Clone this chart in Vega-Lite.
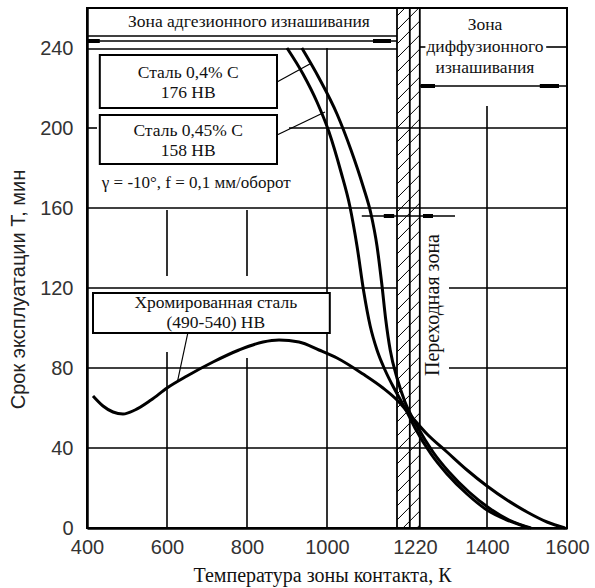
{
  "$schema": "https://vega.github.io/schema/vega-lite/v6.json",
  "autosize": {"type": "none"},
  "width": 480,
  "height": 520,
  "padding": {"left": 87, "top": 8, "right": 28, "bottom": 60},
  "background": "white",
  "config": {"view": {"stroke": "black", "strokeWidth": 2}},
  "datasets": {
    "curves": [
      {"series": "Сталь 0,45% C", "T": 900, "life": 240},
      {"series": "Сталь 0,45% C", "T": 940, "life": 227},
      {"series": "Сталь 0,45% C", "T": 975, "life": 213},
      {"series": "Сталь 0,45% C", "T": 1005, "life": 198},
      {"series": "Сталь 0,45% C", "T": 1035, "life": 178},
      {"series": "Сталь 0,45% C", "T": 1057, "life": 161},
      {"series": "Сталь 0,45% C", "T": 1075, "life": 141},
      {"series": "Сталь 0,45% C", "T": 1092, "life": 118},
      {"series": "Сталь 0,45% C", "T": 1108, "life": 101},
      {"series": "Сталь 0,45% C", "T": 1125, "life": 89},
      {"series": "Сталь 0,45% C", "T": 1145, "life": 79},
      {"series": "Сталь 0,45% C", "T": 1170, "life": 69},
      {"series": "Сталь 0,45% C", "T": 1195, "life": 60},
      {"series": "Сталь 0,45% C", "T": 1220, "life": 50},
      {"series": "Сталь 0,45% C", "T": 1260, "life": 37},
      {"series": "Сталь 0,45% C", "T": 1300, "life": 27},
      {"series": "Сталь 0,45% C", "T": 1350, "life": 17},
      {"series": "Сталь 0,45% C", "T": 1400, "life": 9},
      {"series": "Сталь 0,45% C", "T": 1450, "life": 4},
      {"series": "Сталь 0,45% C", "T": 1505, "life": 0},
      {"series": "Сталь 0,4% C", "T": 937, "life": 240},
      {"series": "Сталь 0,4% C", "T": 980, "life": 225},
      {"series": "Сталь 0,4% C", "T": 1025, "life": 207},
      {"series": "Сталь 0,4% C", "T": 1060, "life": 189},
      {"series": "Сталь 0,4% C", "T": 1090, "life": 171},
      {"series": "Сталь 0,4% C", "T": 1110, "life": 157},
      {"series": "Сталь 0,4% C", "T": 1125, "life": 141},
      {"series": "Сталь 0,4% C", "T": 1137, "life": 122},
      {"series": "Сталь 0,4% C", "T": 1147, "life": 104},
      {"series": "Сталь 0,4% C", "T": 1158, "life": 89},
      {"series": "Сталь 0,4% C", "T": 1175, "life": 75},
      {"series": "Сталь 0,4% C", "T": 1195, "life": 63},
      {"series": "Сталь 0,4% C", "T": 1225, "life": 51},
      {"series": "Сталь 0,4% C", "T": 1265, "life": 38},
      {"series": "Сталь 0,4% C", "T": 1305, "life": 28},
      {"series": "Сталь 0,4% C", "T": 1355, "life": 18},
      {"series": "Сталь 0,4% C", "T": 1405, "life": 10},
      {"series": "Сталь 0,4% C", "T": 1455, "life": 4},
      {"series": "Сталь 0,4% C", "T": 1510, "life": 0},
      {"series": "Хромированная сталь", "T": 415, "life": 66},
      {"series": "Хромированная сталь", "T": 440, "life": 61},
      {"series": "Хромированная сталь", "T": 465, "life": 58},
      {"series": "Хромированная сталь", "T": 490, "life": 57},
      {"series": "Хромированная сталь", "T": 520, "life": 59},
      {"series": "Хромированная сталь", "T": 560, "life": 64},
      {"series": "Хромированная сталь", "T": 600, "life": 70},
      {"series": "Хромированная сталь", "T": 650, "life": 76},
      {"series": "Хромированная сталь", "T": 715, "life": 83},
      {"series": "Хромированная сталь", "T": 780, "life": 89},
      {"series": "Хромированная сталь", "T": 840, "life": 93},
      {"series": "Хромированная сталь", "T": 880, "life": 94},
      {"series": "Хромированная сталь", "T": 930, "life": 93},
      {"series": "Хромированная сталь", "T": 980, "life": 89},
      {"series": "Хромированная сталь", "T": 1025, "life": 85},
      {"series": "Хромированная сталь", "T": 1090, "life": 77},
      {"series": "Хромированная сталь", "T": 1140, "life": 70},
      {"series": "Хромированная сталь", "T": 1175, "life": 64},
      {"series": "Хромированная сталь", "T": 1210, "life": 56},
      {"series": "Хромированная сталь", "T": 1250, "life": 47},
      {"series": "Хромированная сталь", "T": 1300, "life": 38},
      {"series": "Хромированная сталь", "T": 1350, "life": 29},
      {"series": "Хромированная сталь", "T": 1400, "life": 21},
      {"series": "Хромированная сталь", "T": 1450, "life": 14},
      {"series": "Хромированная сталь", "T": 1500, "life": 8},
      {"series": "Хромированная сталь", "T": 1550, "life": 3},
      {"series": "Хромированная сталь", "T": 1595, "life": 0}
    ],
    "grid": [
      {"x": 400, "x2": 1600, "y": 40, "y2": 40},
      {"x": 400, "x2": 1175, "y": 80, "y2": 80},
      {"x": 1305, "x2": 1600, "y": 80, "y2": 80},
      {"x": 400, "x2": 1175, "y": 120, "y2": 120},
      {"x": 1305, "x2": 1600, "y": 120, "y2": 120},
      {"x": 400, "x2": 1600, "y": 160, "y2": 160},
      {"x": 905, "x2": 1600, "y": 200, "y2": 200},
      {"x": 400, "x2": 425, "y": 200, "y2": 200},
      {"x": 400, "x2": 1175, "y": 239.5, "y2": 239.5},
      {"x": 1232, "x2": 1246, "y": 240.5, "y2": 240.5},
      {"x": 1548, "x2": 1600, "y": 240.5, "y2": 240.5},
      {"x": 600, "x2": 600, "y": 126, "y2": 159},
      {"x": 600, "x2": 600, "y": 0, "y2": 88},
      {"x": 800, "x2": 800, "y": 126, "y2": 159},
      {"x": 800, "x2": 800, "y": 0, "y2": 85},
      {"x": 1000, "x2": 1000, "y": 0, "y2": 240},
      {"x": 1400, "x2": 1400, "y": 0, "y2": 211},
      {"x": 400, "x2": 1175, "y": 246, "y2": 246},
      {"x": 400, "x2": 1175, "y": 243.5, "y2": 243.5},
      {"x": 1232, "x2": 1600, "y": 221, "y2": 221},
      {"x": 1087, "x2": 1320, "y": 156, "y2": 156}
    ],
    "zone": [
      {"x": 1175, "x2": 1175, "y": 0, "y2": 260},
      {"x": 1207, "x2": 1207, "y": 0, "y2": 260},
      {"x": 1232, "x2": 1232, "y": 0, "y2": 260}
    ],
    "arrowEnds": [
      {"x": 400, "x2": 432, "y": 243.5, "y2": 243.5},
      {"x": 1115, "x2": 1160, "y": 243.5, "y2": 243.5},
      {"x": 1234, "x2": 1270, "y": 221, "y2": 221},
      {"x": 1532, "x2": 1580, "y": 221, "y2": 221},
      {"x": 1142, "x2": 1168, "y": 156, "y2": 156},
      {"x": 1240, "x2": 1265, "y": 156, "y2": 156}
    ],
    "leaders": [
      {"x": 875, "x2": 957, "y": 223, "y2": 232},
      {"x": 875, "x2": 995, "y": 196.5, "y2": 208},
      {"x": 652, "x2": 627, "y": 97.5, "y2": 74}
    ],
    "hatch": [
      {"x": 1175, "x2": 1232, "y": -10, "y2": 1.5},
      {"x": 1175, "x2": 1232, "y": -3, "y2": 8.5},
      {"x": 1175, "x2": 1232, "y": 4, "y2": 15.5},
      {"x": 1175, "x2": 1232, "y": 11, "y2": 22.5},
      {"x": 1175, "x2": 1232, "y": 18, "y2": 29.5},
      {"x": 1175, "x2": 1232, "y": 25, "y2": 36.5},
      {"x": 1175, "x2": 1232, "y": 32, "y2": 43.5},
      {"x": 1175, "x2": 1232, "y": 39, "y2": 50.5},
      {"x": 1175, "x2": 1232, "y": 46, "y2": 57.5},
      {"x": 1175, "x2": 1232, "y": 53, "y2": 64.5},
      {"x": 1175, "x2": 1232, "y": 60, "y2": 71.5},
      {"x": 1175, "x2": 1232, "y": 67, "y2": 78.5},
      {"x": 1175, "x2": 1232, "y": 74, "y2": 85.5},
      {"x": 1175, "x2": 1232, "y": 81, "y2": 92.5},
      {"x": 1175, "x2": 1232, "y": 88, "y2": 99.5},
      {"x": 1175, "x2": 1232, "y": 95, "y2": 106.5},
      {"x": 1175, "x2": 1232, "y": 102, "y2": 113.5},
      {"x": 1175, "x2": 1232, "y": 109, "y2": 120.5},
      {"x": 1175, "x2": 1232, "y": 116, "y2": 127.5},
      {"x": 1175, "x2": 1232, "y": 123, "y2": 134.5},
      {"x": 1175, "x2": 1232, "y": 130, "y2": 141.5},
      {"x": 1175, "x2": 1232, "y": 137, "y2": 148.5},
      {"x": 1175, "x2": 1232, "y": 144, "y2": 155.5},
      {"x": 1175, "x2": 1232, "y": 151, "y2": 162.5},
      {"x": 1175, "x2": 1232, "y": 158, "y2": 169.5},
      {"x": 1175, "x2": 1232, "y": 165, "y2": 176.5},
      {"x": 1175, "x2": 1232, "y": 172, "y2": 183.5},
      {"x": 1175, "x2": 1232, "y": 179, "y2": 190.5},
      {"x": 1175, "x2": 1232, "y": 186, "y2": 197.5},
      {"x": 1175, "x2": 1232, "y": 193, "y2": 204.5},
      {"x": 1175, "x2": 1232, "y": 200, "y2": 211.5},
      {"x": 1175, "x2": 1232, "y": 207, "y2": 218.5},
      {"x": 1175, "x2": 1232, "y": 214, "y2": 225.5},
      {"x": 1175, "x2": 1232, "y": 221, "y2": 232.5},
      {"x": 1175, "x2": 1232, "y": 228, "y2": 239.5},
      {"x": 1175, "x2": 1232, "y": 235, "y2": 246.5},
      {"x": 1175, "x2": 1232, "y": 242, "y2": 253.5},
      {"x": 1175, "x2": 1232, "y": 249, "y2": 260.5},
      {"x": 1175, "x2": 1232, "y": 256, "y2": 267.5}
    ],
    "boxes": [
      {"x": 432, "x2": 875, "y": 210, "y2": 236.5},
      {"x": 432, "x2": 875, "y": 182, "y2": 206.5},
      {"x": 415, "x2": 1007, "y": 97.5, "y2": 117.5}
    ],
    "labels": [
      {"x": 805, "y": 253, "text": "Зона адгезионного изнашивания"},
      {"x": 1395, "y": 251.5, "text": "Зона"},
      {"x": 1395, "y": 240.5, "text": "диффузионного"},
      {"x": 1395, "y": 230, "text": "изнашивания"},
      {"x": 653, "y": 227.5, "text": "Сталь 0,4% C"},
      {"x": 653, "y": 217.5, "text": "176 HB"},
      {"x": 653, "y": 198.5, "text": "Сталь 0,45% C"},
      {"x": 653, "y": 188.5, "text": "158 HB"},
      {"x": 722, "y": 112.5, "text": "Хромированная сталь"},
      {"x": 722, "y": 102.5, "text": "(490-540) HB"}
    ],
    "leftLabels": [
      {"x": 437, "y": 172.5, "text": "γ = -10°, f = 0,1 мм/оборот"}
    ],
    "vertLabels": [
      {"x": 1265, "y": 111.5, "text": "Переходная зона"}
    ]
  },
  "layer": [
    {
      "data": {"name": "hatch"},
      "mark": {"type": "rule", "stroke": "black", "strokeWidth": 1, "clip": true},
      "encoding": {
        "x": {"field": "x", "type": "quantitative", "scale": {"domain": [400, 1600], "nice": false, "zero": false},
          "axis": {"values": [400, 600, 800, 1000, 1220, 1400, 1600], "format": "d", "title": "Температура зоны контакта, К", "grid": false, "ticks": false,
            "domainColor": "black", "domainWidth": 2.5, "labelFont": "Liberation Sans", "labelFontSize": 20, "labelColor": "#333", "labelPadding": 9, "labelFlush": false,
            "titleFont": "Liberation Serif", "titleFontSize": 20, "titleFontWeight": "normal", "titleColor": "#111", "titleY": 47, "titleBaseline": "middle", "titleX": 235}},
        "x2": {"field": "x2"},
        "y": {"field": "y", "type": "quantitative", "scale": {"domain": [0, 260], "nice": false},
          "axis": {"values": [0, 40, 80, 120, 160, 200, 240], "format": "d", "title": "Срок эксплуатации T, мин", "grid": false, "ticks": false,
            "domainColor": "black", "domainWidth": 2.5, "labelFont": "Liberation Sans", "labelFontSize": 20, "labelColor": "#333", "labelPadding": 14, "labelFlush": false,
            "titleFont": "Liberation Sans", "titleFontSize": 20, "titleFontWeight": "normal", "titleColor": "#222", "titleX": -69, "titleY": 281, "titleBaseline": "middle"}},
        "y2": {"field": "y2"}
      }
    },
    {
      "data": {"name": "grid"},
      "mark": {"type": "rule", "stroke": "black", "strokeWidth": 1.6},
      "encoding": {
        "x": {"field": "x", "type": "quantitative"},
        "x2": {"field": "x2"},
        "y": {"field": "y", "type": "quantitative"},
        "y2": {"field": "y2"}
      }
    },
    {
      "data": {"name": "zone"},
      "mark": {"type": "rule", "stroke": "black", "strokeWidth": 1.8},
      "encoding": {
        "x": {"field": "x", "type": "quantitative"},
        "x2": {"field": "x2"},
        "y": {"field": "y", "type": "quantitative"},
        "y2": {"field": "y2"}
      }
    },
    {
      "data": {"name": "arrowEnds"},
      "mark": {"type": "rule", "stroke": "black", "strokeWidth": 4},
      "encoding": {
        "x": {"field": "x", "type": "quantitative"},
        "x2": {"field": "x2"},
        "y": {"field": "y", "type": "quantitative"},
        "y2": {"field": "y2"}
      }
    },
    {
      "data": {"name": "leaders"},
      "mark": {"type": "rule", "stroke": "black", "strokeWidth": 1.2},
      "encoding": {
        "x": {"field": "x", "type": "quantitative"},
        "x2": {"field": "x2"},
        "y": {"field": "y", "type": "quantitative"},
        "y2": {"field": "y2"}
      }
    },
    {
      "data": {"name": "boxes"},
      "mark": {"type": "rect", "fill": "white", "stroke": "black", "strokeWidth": 2},
      "encoding": {
        "x": {"field": "x", "type": "quantitative"},
        "x2": {"field": "x2"},
        "y": {"field": "y", "type": "quantitative"},
        "y2": {"field": "y2"}
      }
    },
    {
      "data": {"name": "curves"},
      "mark": {"type": "line", "strokeWidth": 3, "interpolate": "monotone"},
      "encoding": {
        "x": {"field": "T", "type": "quantitative"},
        "y": {"field": "life", "type": "quantitative"},
        "color": {"field": "series", "type": "nominal", "scale": {"range": ["black", "black", "black"]}, "legend": null}
      }
    },
    {
      "data": {"name": "labels"},
      "mark": {"type": "text", "font": "Liberation Serif", "fontSize": 17.5, "color": "#111", "align": "center", "baseline": "middle"},
      "encoding": {
        "x": {"field": "x", "type": "quantitative"},
        "y": {"field": "y", "type": "quantitative"},
        "text": {"field": "text"}
      }
    },
    {
      "data": {"name": "leftLabels"},
      "mark": {"type": "text", "font": "Liberation Serif", "fontSize": 17, "color": "#111", "align": "left", "baseline": "middle"},
      "encoding": {
        "x": {"field": "x", "type": "quantitative"},
        "y": {"field": "y", "type": "quantitative"},
        "text": {"field": "text"}
      }
    },
    {
      "data": {"name": "vertLabels"},
      "mark": {"type": "text", "font": "Liberation Serif", "fontSize": 20, "color": "#111", "align": "center", "baseline": "middle", "angle": 270},
      "encoding": {
        "x": {"field": "x", "type": "quantitative"},
        "y": {"field": "y", "type": "quantitative"},
        "text": {"field": "text"}
      }
    }
  ]
}
